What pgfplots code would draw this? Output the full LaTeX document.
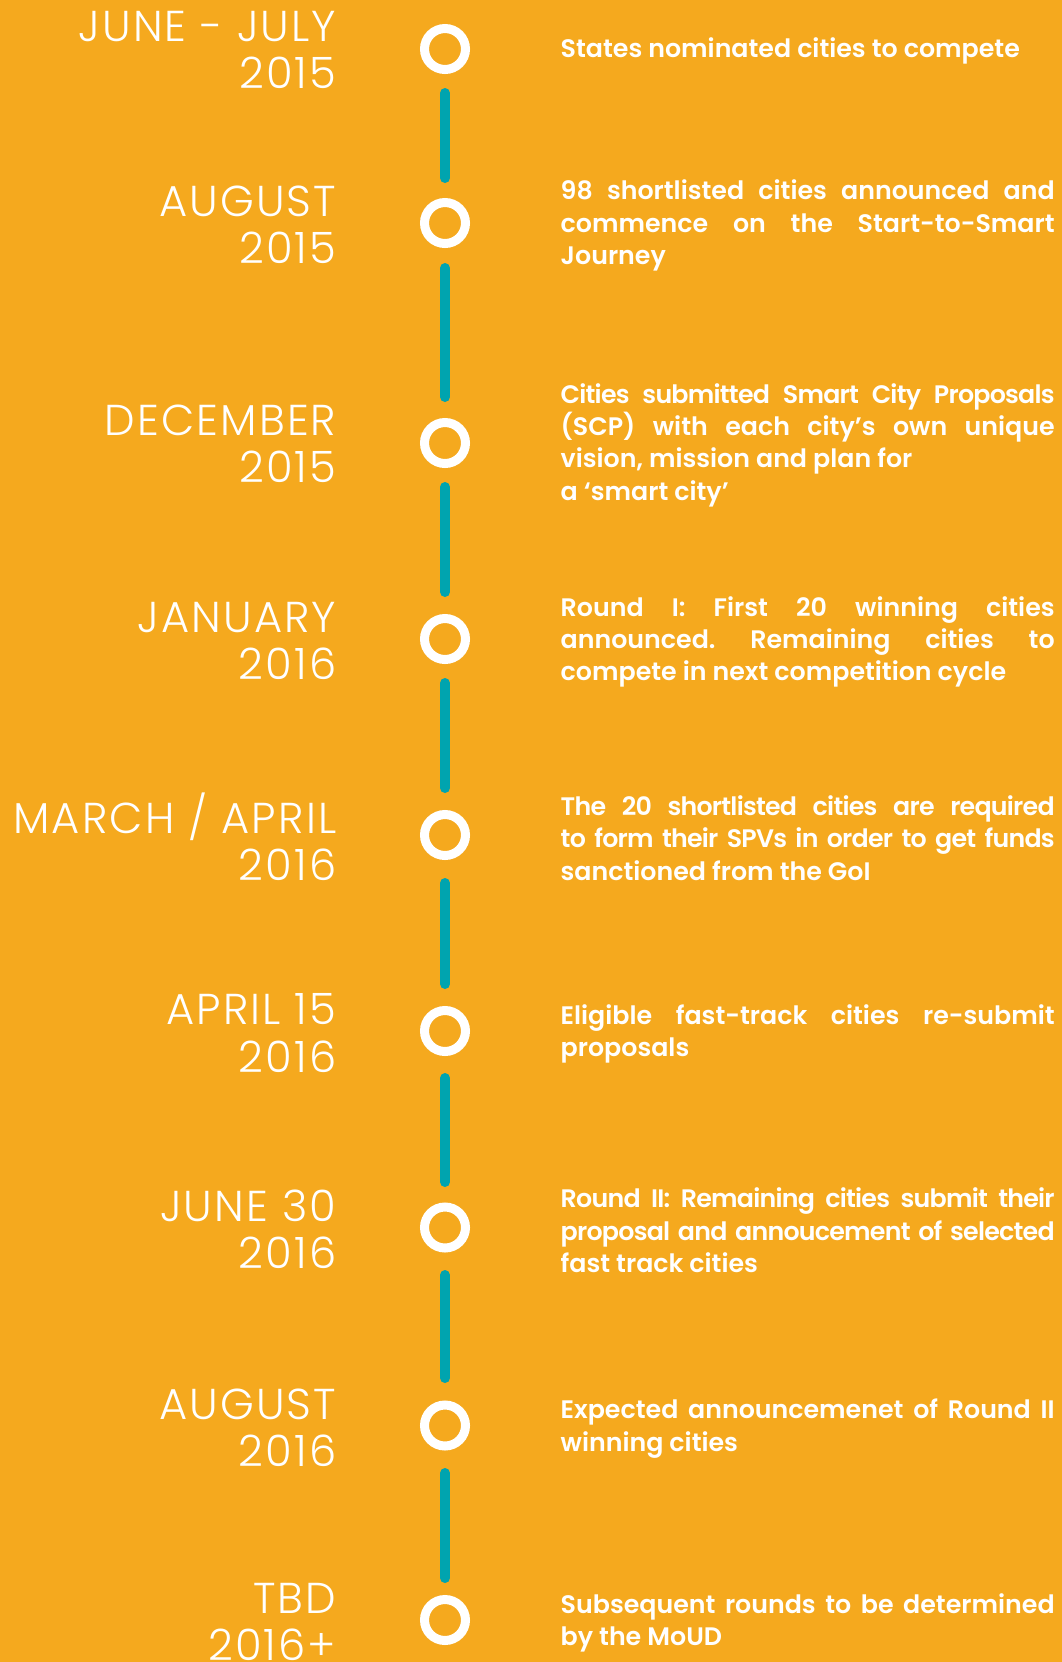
\documentclass[border=0pt]{standalone}
\usepackage{fontspec}
\usepackage{pgfplots}
\pgfplotsset{compat=1.18}
\newfontfamily\datefont{Poppins Light}[LetterSpace=5]
\newfontfamily\descfont{Poppins SemiBold}
\newcommand\tight[1]{{\addfontfeature{LetterSpace=-3}#1}}
\definecolor{bgorange}{RGB}{245,169,30}
\definecolor{lineteal}{RGB}{0,164,175}
\begin{document}
\frenchspacing
\begin{tikzpicture}
\begin{axis}[
  width=106.2mm, height=166.2mm, scale only axis,
  xmin=0, xmax=1062, ymin=0, ymax=1662, y dir=reverse,
  hide axis, clip=false, unbounded coords=jump]
\addplot[fill=bgorange, draw=none] coordinates {(0,0) (1062,0) (1062,1662) (0,1662)} -- cycle;
% connecting segments
\addplot[lineteal, line width=1mm, line cap=round] coordinates {
(445,93) (445,178) (445,nan)
(445,268) (445,397) (445,nan)
(445,487) (445,592) (445,nan)
(445,683) (445,788) (445,nan)
(445,883) (445,984) (445,nan)
(445,1078) (445,1182) (445,nan)
(445,1275) (445,1378) (445,nan)
(445,1473) (445,1578)};
% milestone rings
\addplot[only marks, mark=o, mark size=2.05mm, mark options={draw=white, line width=0.9mm}] coordinates {
(445,49) (445,223) (445,443) (445,639) (445,835) (445,1031) (445,1227.5) (445,1425.5) (445,1620)};
\tikzset{dt/.style={anchor=east, align=right, inner sep=0pt, text=white, font=\datefont\fontsize{12.3}{13.4}\selectfont},
 ds/.style={anchor=west, align=justify, inner sep=0pt, text width=49.4mm, text=white, font=\descfont\fontsize{7.2}{9.2}\selectfont}}
\node[dt] at (axis cs:337,50) {JUNE - JULY\\2015};
\node[dt] at (axis cs:337,224.5) {AUGUST\\2015};
\node[dt] at (axis cs:337,444) {DECEMBER\\2015};
\node[dt] at (axis cs:337,641) {JANUARY\\2016};
\node[dt] at (axis cs:337,837) {MARCH / APRIL\\2016};
\node[dt] at (axis cs:337,1033) {APRIL 15\\2016};
\node[dt] at (axis cs:337,1229.5) {JUNE 30\\2016};
\node[dt] at (axis cs:337,1427.5) {AUGUST\\2016};
\node[dt, overlay] at (axis cs:337,1622) {TBD\\2016+};
\node[ds] at (axis cs:560,51) {States nominated cities to compete};
\node[ds] at (axis cs:560,225.5) {98 shortlisted cities announced and\linebreak commence on the Start-to-Smart\linebreak Journey};
\node[ds] at (axis cs:560,445) {\tight{Cities submitted Smart City Proposals}\linebreak (SCP) with each city’s own unique\linebreak vision, mission and plan for\newline a ‘smart city’};
\node[ds] at (axis cs:560,642) {Round I: First 20 winning cities\linebreak announced. Remaining cities to\linebreak compete in next competition cycle};
\node[ds] at (axis cs:560,838) {\tight{The 20 shortlisted cities are required}\linebreak \tight{to form their SPVs in order to get funds}\linebreak sanctioned from the GoI};
\node[ds] at (axis cs:560,1034) {Eligible fast-track cities re-submit\linebreak proposals};
\node[ds] at (axis cs:560,1230.5) {\tight{Round II: Remaining cities submit their}\linebreak \tight{proposal and annoucement of selected}\linebreak fast track cities};
\node[ds] at (axis cs:560,1428.5) {Expected announcemenet of Round II\linebreak winning cities};
\node[ds, overlay] at (axis cs:560,1623) {Subsequent rounds to be determined\linebreak by the MoUD};
\end{axis}
\end{tikzpicture}
\end{document}
